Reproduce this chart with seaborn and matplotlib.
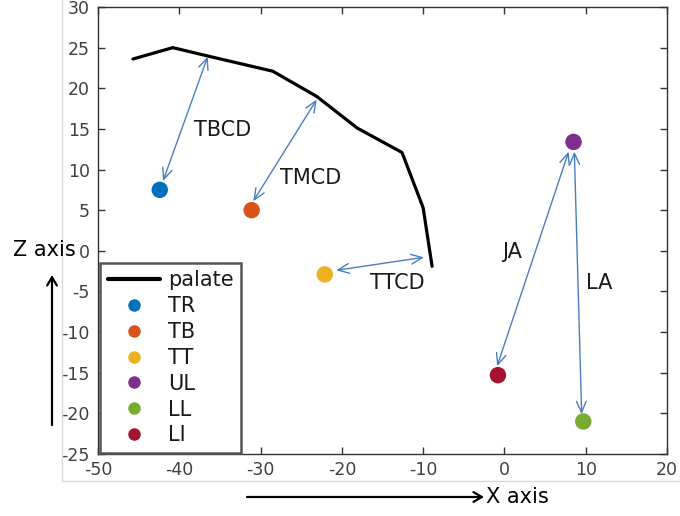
import matplotlib
matplotlib.use("Agg")
import matplotlib.pyplot as plt
from matplotlib.lines import Line2D
import seaborn as sns
import pandas as pd

# Palate contour (x, z)
palate_x = [-45.7, -40.8, -36.2, -28.5, -23.1, -18.1, -12.6, -10.0, -8.9]
palate_z = [23.6, 25.0, 23.9, 22.1, 19.0, 15.1, 12.1, 5.3, -1.9]

# Articulator sensor positions
sensors = ["TR", "TB", "TT", "UL", "LL", "LI"]
sensor_x = [-42.4, -31.1, -22.1, 8.5, 9.7, -0.8]
sensor_z = [7.5, 5.0, -2.9, 13.4, -21.0, -15.3]
sensor_colors = ["#0072BD", "#D95319", "#EDB120", "#7E2F8E", "#77AC30", "#A2142F"]

# Measured distances: label, start point, end point, label position
measures = ["TBCD", "TMCD", "TTCD", "JA", "LA"]
measure_start = [(-36.5, 23.9), (-23.1, 18.6), (-20.7, -2.4), (-0.9, -14.2), (9.5, -20.1)]
measure_end = [(-42.0, 8.6), (-30.9, 6.1), (-9.9, -0.8), (7.9, 12.2), (8.6, 12.2)]
measure_label_pos = [(-34.7, 14.9), (-23.8, 9.0), (-13.2, -3.9), (0.9, -0.2), (11.7, -4.0)]

x_ticks = [-50, -40, -30, -20, -10, 0, 10, 20]
z_ticks = [-25, -20, -15, -10, -5, 0, 5, 10, 15, 20, 25, 30]

sns.set_style("white")
plt.rcParams["font.family"] = ["DejaVu Sans"]
plt.rcParams["axes.unicode_minus"] = False

fig = plt.figure(figsize=(6.8, 5.16), dpi=100)
ax = fig.add_axes([98 / 680, 1 - 454 / 516, (667 - 98) / 680, (454 - 7) / 516])

palate_df = pd.DataFrame({"x": palate_x, "z": palate_z})
sns.lineplot(data=palate_df, x="x", y="z", sort=False, color="black",
             linewidth=2.3, ax=ax, legend=False)

sensor_df = pd.DataFrame({"x": sensor_x, "z": sensor_z, "sensor": sensors})
sns.scatterplot(data=sensor_df, x="x", y="z", hue="sensor", hue_order=sensors,
                palette=sensor_colors, s=140, edgecolor="none", ax=ax,
                legend=False, zorder=3)

arrow_color = "#4A7EBB"
for name, p0, p1, lp in zip(measures, measure_start, measure_end, measure_label_pos):
    ax.annotate("", xy=p1, xytext=p0,
                arrowprops=dict(arrowstyle="<->,head_length=0.8,head_width=0.35",
                                color=arrow_color, lw=1.0,
                                shrinkA=0, shrinkB=0))
    ax.text(lp[0], lp[1], name, fontsize=15, color="#1a1a1a",
            ha="center", va="center")

ax.set_xlim(-50, 20)
ax.set_ylim(-25, 30)
ax.set_xticks(x_ticks)
ax.set_yticks(z_ticks)
ax.set_xlabel("")
ax.set_ylabel("")
ax.tick_params(direction="in", length=5, width=1, colors="#333333",
               labelcolor="#404040", labelsize=12.5, top=True, right=True,
               bottom=True, left=True)
ax.tick_params(axis="y", pad=6)
ax.tick_params(axis="x", pad=5)
for sp in ax.spines.values():
    sp.set_visible(True)
    sp.set_color("#333333")
    sp.set_linewidth(1.0)

handles = [Line2D([0], [0], color="black", lw=3, label="palate")]
for name, c in zip(sensors, sensor_colors):
    handles.append(Line2D([0], [0], marker="o", linestyle="none",
                          markerfacecolor=c, markeredgecolor="none",
                          markersize=9, label=name))
leg = ax.legend(handles=handles, loc="lower left", bbox_to_anchor=(0.004, 0.003),
                borderaxespad=0, fontsize=15, frameon=True, fancybox=False,
                handlelength=2.5, handletextpad=0.4, labelspacing=0.28,
                borderpad=0.35)
leg.get_frame().set_edgecolor("#555555")
leg.get_frame().set_linewidth(1.8)
leg.get_frame().set_alpha(1)
for t in leg.get_texts():
    t.set_color("#1a1a1a")

# Light frame around the plotting area
fig.add_artist(Line2D([62 / 680, 62 / 680], [1 - 481 / 516, 1.0],
                      color="#d9d9d9", lw=1.0))
fig.add_artist(Line2D([62 / 680, 1.0], [1 - 481 / 516, 1 - 481 / 516],
                      color="#d9d9d9", lw=1.0))

# Axis direction indicators
ax.annotate("", xy=(484 / 680, 1 - 497 / 516), xytext=(247 / 680, 1 - 497 / 516),
            xycoords="figure fraction", textcoords="figure fraction",
            arrowprops=dict(arrowstyle="->,head_length=0.6,head_width=0.35",
                            color="black", lw=1.6, shrinkA=0, shrinkB=0),
            annotation_clip=False)
fig.text(486 / 680, 1 - 497 / 516, "X axis", fontsize=15, ha="left", va="center",
         color="black")
ax.annotate("", xy=(52 / 680, 1 - 275 / 516), xytext=(52 / 680, 1 - 425 / 516),
            xycoords="figure fraction", textcoords="figure fraction",
            arrowprops=dict(arrowstyle="->,head_length=0.6,head_width=0.35",
                            color="black", lw=1.6, shrinkA=0, shrinkB=0),
            annotation_clip=False)
fig.text(44 / 680, 1 - 250 / 516, "Z axis", fontsize=15, ha="center", va="center",
         color="black")

fig.savefig("out.png", dpi=100)
